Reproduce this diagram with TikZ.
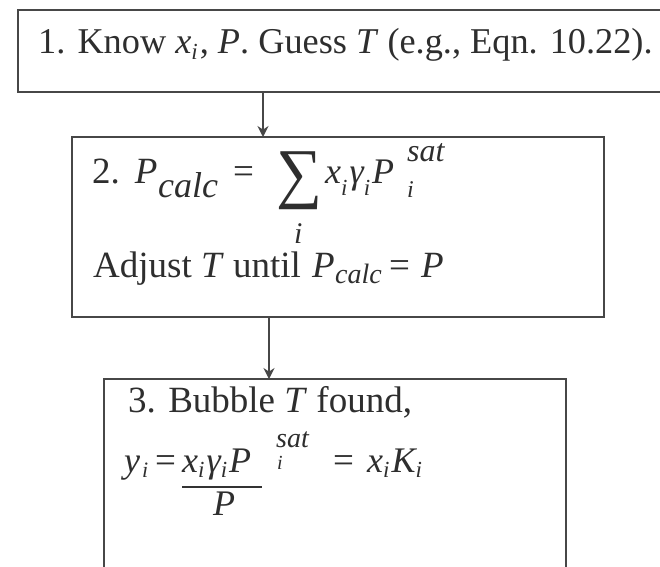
\documentclass[tikz,border=0pt]{standalone}
\usepackage{fontspec}
\setmainfont{Liberation Serif}
\usepackage{graphicx}
\usetikzlibrary{calc, positioning}
\usetikzlibrary{arrows.meta}

\newcommand{\fsz}[1]{\fontsize{#1}{#1}\selectfont}
\newcommand{\lo}[2]{\raisebox{-#1}{\fsz{23}\itshape #2}\kern2pt}

\tikzset{
  stepbox/.style={draw=black!72, line width=2.4pt, inner sep=0pt, outer sep=0pt, anchor=north west},
  txt/.style={anchor=base west, inner sep=0pt, text=black!82, font=\fsz{37}},
  eqn/.style={txt, font=\fsz{36}\itshape},
  flow/.style={-{Stealth[length=11pt,width=11pt]}, draw=black!72, line width=1.8pt},
}

\begin{document}
\begin{tikzpicture}[x=1pt, y=-1pt]
\useasboundingbox (0,0) rectangle (660,566);
\clip (0,0) rectangle (660,566);

% the three steps
\node[stepbox, minimum width=680pt, minimum height=82pt] (step1) at (18,10) {};
\node[stepbox, minimum width=532pt, minimum height=180pt] (step2) at (72,137) {};
\node[stepbox, minimum width=462pt, minimum height=210pt] (step3) at (104,379) {};

\coordinate (c1) at (263,0);
\coordinate (c2) at (269,0);
\draw[flow] (step1.south -| c1) -- (step2.north -| c1);
\draw[flow] (step2.south -| c2) -- (step3.north -| c2);

% step 1
\node[txt, font=\fsz{36.3}] (know) at (38,53) {1. Know \textit{x}\lo{6pt}{i}, \textit{P}. Guess \textit{T} (e.g., Eqn. 10.22).};

% step 2, first line
\node[txt] (two) at (92,183) {2.\kern15pt\textit{P}};
\node[txt, font=\fsz{36}\itshape] (calcA) at (158,197) {calc};
\node[txt] (eqA) at (233,183) {=};
\node[inner sep=0pt, text=black!82] (sum) at (299.5,181) {\resizebox*{46pt}{58pt}{∑}};
\node[eqn, font=\fsz{30}\itshape] (sumi) at (294,243) {i};
\node[eqn] (prodA) at (325,183) {x\lo{12pt}{i}γ\lo{12pt}{i}P};
\node[eqn, font=\fsz{32}\itshape] (satA) at (407,161) {sat};
\node[eqn, font=\fsz{24}\itshape] (subA) at (407,197) {i};

% step 2, second line
\node[txt] (adjust) at (93,277) {Adjust \textit{T} until};
\node[txt, font=\fsz{37}\itshape] (pB) at (312,277) {P};
\node[txt, font=\fsz{28}\itshape] (calcB) at (335,283) {calc};
\node[txt] (eqB) at (389,277) {=};
\node[txt, font=\fsz{37}\itshape] (pC) at (421,277) {P};

% step 3
\node[txt] (found) at (128,412) {3. Bubble \textit{T} found,};
\node[eqn] (yi) at (124,472) {y};
\node[eqn, font=\fsz{22}\itshape] (yisub) at (142,477) {i};
\node[txt] (eqC) at (155,472) {=};
\node[eqn] (num) at (182,472) {x\lo{5pt}{i}γ\lo{5pt}{i}P};
\node[eqn, font=\fsz{28}\itshape] (satB) at (276,447) {sat};
\node[eqn, font=\fsz{20}\itshape] (subB) at (277,469) {i};
\draw[line width=1.4pt, black!80] (182,487) -- (262,487);
\node[eqn] (den) at (213,515) {P};
\node[txt] (eqD) at (333,472) {=};
\node[eqn] (xk) at (367,472) {x\lo{5pt}{i}K\lo{5pt}{i}};

\end{tikzpicture}
\end{document}
